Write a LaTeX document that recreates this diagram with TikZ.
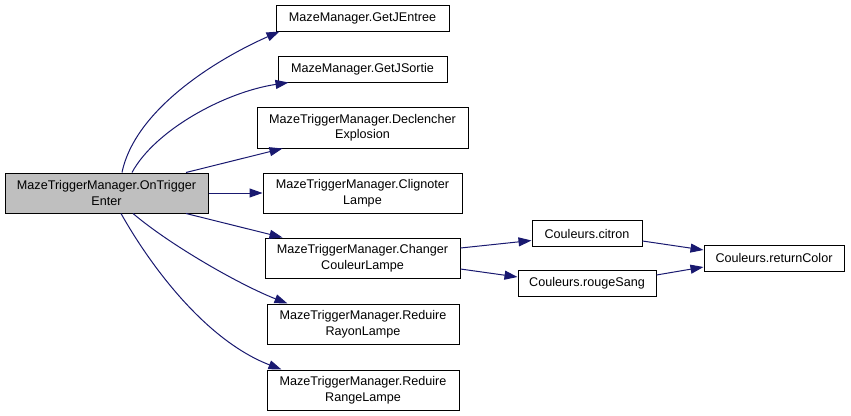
\documentclass[tikz,border=0pt]{standalone}
\usepackage{fontspec}
\setmainfont{Liberation Sans}
\usetikzlibrary{arrows.meta}
\definecolor{edgeblue}{HTML}{191970}
\definecolor{rootgray}{HTML}{BFBFBF}
\begin{document}
\begin{tikzpicture}[x=1pt,y=-1pt,
  box/.style={draw=black,line width=1pt,fill=white,inner sep=0pt,align=center,
    font=\fontsize{12.6}{15.5}\selectfont},
  rootbox/.style={box,fill=rootgray},
  call/.style={draw=edgeblue,line width=1pt,-{Triangle[length=13pt,width=9pt]}}]
\useasboundingbox (0,0) rectangle (851,415);
\fill[white] (0,0) rectangle (851,415);
% nodes
\node[rootbox,minimum width=203pt,minimum height=40pt] (main) at (106.5,193) {MazeTriggerManager.OnTrigger\\Enter};
\node[box,minimum width=173pt,minimum height=26pt] (jent) at (362.5,18) {MazeManager.GetJEntree};
\node[box,minimum width=169pt,minimum height=26pt] (jsor) at (362.5,69) {MazeManager.GetJSortie};
\node[box,minimum width=211pt,minimum height=41pt] (decl) at (362.5,127.5) {MazeTriggerManager.Declencher\\Explosion};
\node[box,minimum width=199pt,minimum height=40pt] (clig) at (362.5,193) {MazeTriggerManager.Clignoter\\Lampe};
\node[box,minimum width=195pt,minimum height=40pt] (chg) at (362.5,258) {MazeTriggerManager.Changer\\CouleurLampe};
\node[box,minimum width=192pt,minimum height=40pt] (ray) at (363,324) {MazeTriggerManager.Reduire\\RayonLampe};
\node[box,minimum width=192pt,minimum height=40pt] (rng) at (363,390) {MazeTriggerManager.Reduire\\RangeLampe};
\node[box,minimum width=110pt,minimum height=26pt] (cit) at (587,233.5) {Couleurs.citron};
\node[box,minimum width=138pt,minimum height=26pt] (rouge) at (587,283.5) {Couleurs.rougeSang};
\node[box,minimum width=140pt,minimum height=26pt] (ret) at (774,258) {Couleurs.returnColor};
% edges
\draw[call] ([xshift=15.5pt]main.north) .. controls (135,110) and (215,60) .. ([xshift=4pt]jent.south west);
\draw[call] ([xshift=25.5pt]main.north) .. controls (155,130) and (225,92) .. ([xshift=11pt]jsor.south west);
\draw[call] ([xshift=79.5pt]main.north) -- ([xshift=26pt]decl.south west);
\draw[call] (main.east) -- (clig.west);
\draw[call] ([xshift=79.5pt]main.south) -- ([xshift=18pt]chg.north west);
\draw[call] ([xshift=26.5pt]main.south) .. controls (170,245) and (240,285) .. ([xshift=21pt]ray.north west);
\draw[call] ([xshift=14.5pt]main.south) .. controls (150,265) and (205,340) .. ([xshift=15pt]rng.north west);
\draw[call] ([yshift=10pt]chg.east) -- ([yshift=-7pt]cit.west);
\draw[call] ([yshift=-11pt]chg.east) -- ([yshift=6.5pt]rouge.west);
\draw[call] ([yshift=-7.5pt]cit.east) -- ([yshift=8pt]ret.west);
\draw[call] ([yshift=8.5pt]rouge.east) -- ([yshift=-9pt]ret.west);
\end{tikzpicture}
\end{document}
